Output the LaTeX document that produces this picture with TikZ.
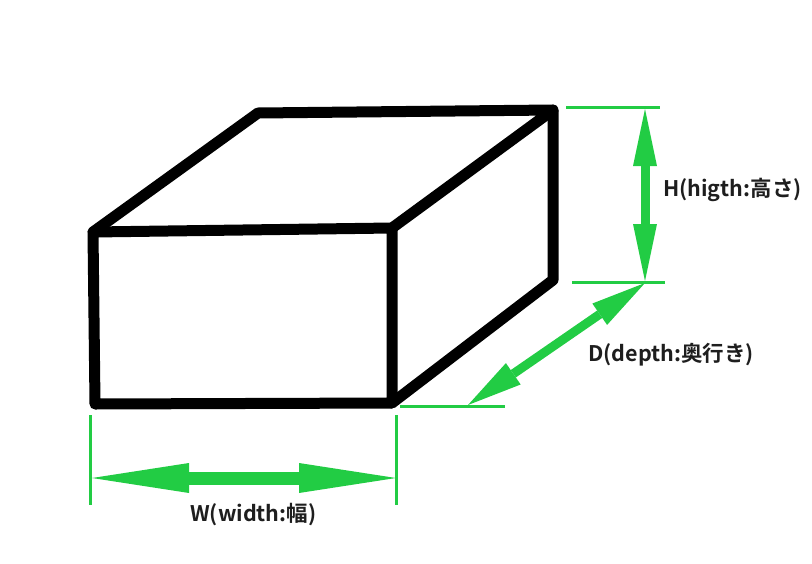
\documentclass[tikz,border=0pt]{standalone}
\usepackage{fontspec}
\setmainfont{Noto Sans CJK JP}[BoldFont={Noto Sans CJK JP Bold}]
\usetikzlibrary{arrows.meta}
\definecolor{dimgreen}{RGB}{34,204,68}
\definecolor{textgray}{RGB}{30,30,30}
\tikzset{
  boxedge/.style={line width=11pt, line join=round, line cap=round, black},
  tickline/.style={line width=3pt, dimgreen},
  dimarrow/.style={dimgreen, line width=#1},
  lbl/.style={anchor=west, inner sep=0pt, font=\fontsize{21.5}{24}\selectfont\bfseries, text=textgray}
}
\begin{document}
\begin{tikzpicture}[x=1pt,y=-1pt]
\useasboundingbox (0,0) rectangle (812,563);
% box corners
\coordinate (FTL) at (93,232);
\coordinate (FTR) at (392,228);
\coordinate (FBR) at (392,403);
\coordinate (FBL) at (95,404);
\coordinate (BTL) at (258,113);
\coordinate (BTR) at (553,110);
\coordinate (BBR) at (553,280);
\draw[boxedge] (FTL) -- (FTR) -- (FBR) -- (FBL) -- cycle;
\draw[boxedge] (FTL) -- (BTL) -- (BTR) -- (FTR);
\draw[boxedge] (BTR) -- (BBR) -- (FBR);
% ticks
\coordinate (HT1) at (566,107); \coordinate (HT2) at (660,107);
\coordinate (HB1) at (572,282); \coordinate (HB2) at (665,282);
\coordinate (DB1) at (400,406); \coordinate (DB2) at (505,406);
\coordinate (WL1) at (90,415); \coordinate (WL2) at (90,505);
\coordinate (WR1) at (396,415); \coordinate (WR2) at (396,505);
\draw[tickline] (HT1) -- (HT2);
\draw[tickline] (HB1) -- (HB2);
\draw[tickline] (DB1) -- (DB2);
\draw[tickline] (WL1) -- (WL2);
\draw[tickline] (WR1) -- (WR2);
% arrows
\coordinate (Hs) at (645,109);
\coordinate (He) at (645,281);
\coordinate (Ds) at (645,283);
\coordinate (De) at (468,405);
\coordinate (Ws) at (92,478);
\coordinate (We) at (396,478);
\draw[dimarrow=9pt, {Triangle[length=57pt,width=24pt,line width=0pt]}-{Triangle[length=57pt,width=24pt,line width=0pt]}] (Hs) -- (He);
\draw[dimarrow=9pt, {Triangle[length=55pt,width=26pt,line width=0pt]}-{Triangle[length=55pt,width=26pt,line width=0pt]}] (Ds) -- (De);
\draw[dimarrow=13pt, {Triangle[length=97pt,width=30pt,line width=0pt]}-{Triangle[length=97pt,width=30pt,line width=0pt]}] (Ws) -- (We);
% labels
\node[lbl] (Hlbl) at (663,190) {H(higth:高さ)};
\node[lbl] (Dlbl) at (588,355) {D(depth:奥行き)};
\node[lbl] (Wlbl) at (190,515) {W(width:幅)};
\end{tikzpicture}
\end{document}
